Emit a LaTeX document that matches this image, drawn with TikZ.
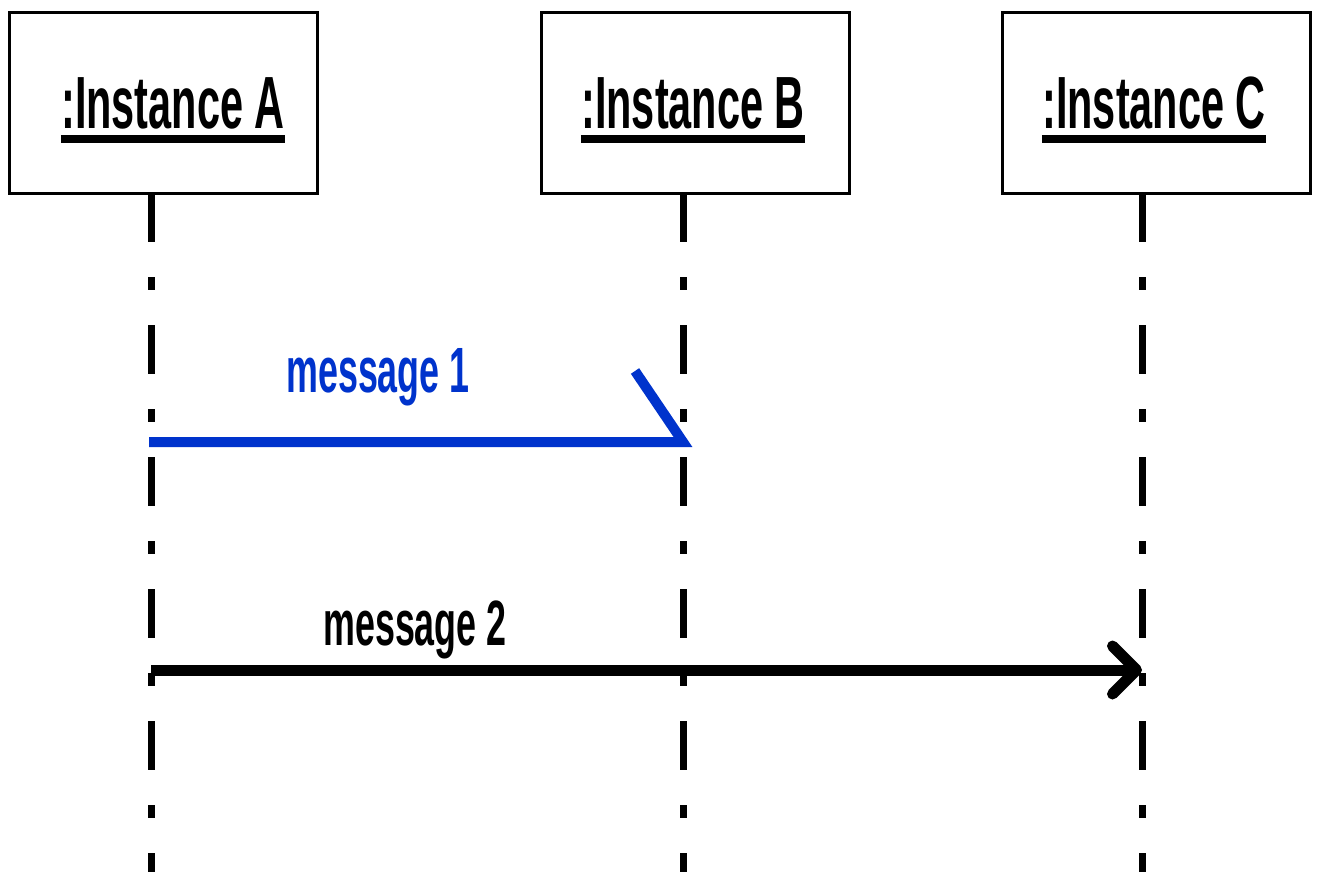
\documentclass[tikz,border=0pt]{standalone}
\usepackage{fontspec}
\usepackage{tikz}
\usetikzlibrary{arrows.meta, positioning, calc}
\newfontfamily\narrowbold{Liberation Sans}[FakeStretch=0.56]
\definecolor{MsgBlue}{RGB}{0,51,204}

\begin{document}
\begin{tikzpicture}[x=0.5pt, y=-0.5pt,
  instbox/.style={draw, line width=1.5pt, rectangle, minimum width=154pt, minimum height=90pt, inner sep=0pt},
  insttext/.style={inner sep=0pt, anchor=base, font=\narrowbold\bfseries\fontsize{37pt}{40pt}\selectfont},
  msgtext/.style={inner sep=0pt, anchor=base, font=\narrowbold\bfseries\fontsize{32pt}{36pt}\selectfont},
  lifeline/.style={line width=3.5pt, dash pattern=on 24.5pt off 17.5pt on 6.5pt off 17.5pt},
  uline/.style={line width=4pt}]
\useasboundingbox (0,0) rectangle (1317,872);
% instances
\node[instbox] at (163,103) (A) {};
\node[instbox] at (695,103) (B) {};
\node[instbox] at (1156,103) (C) {};
\node[insttext] at (173,128) (tA) {:Instance A};
\node[insttext] at (693,128) (tB) {:Instance B};
\node[insttext] at (1154,128) (tC) {:Instance C};
\foreach \t in {tA,tB,tC}
  \draw[uline] ($(\t.base west)+(0,11)$) -- ($(\t.base east)+(0,11)$);
% lifelines
\coordinate (lA) at (151,193); \coordinate (eA) at (151,872);
\coordinate (lB) at (683,193); \coordinate (eB) at (683,872);
\coordinate (lC) at (1142,193); \coordinate (eC) at (1142,872);
\draw[lifeline] (lA) -- (eA);
\draw[lifeline] (lB) -- (eB);
\draw[lifeline] (lC) -- (eC);
% messages
\coordinate (m1s) at (149,442); \coordinate (m1e) at (683,442); \coordinate (m1b) at (635,371);
\coordinate (m2s) at (151,670); \coordinate (m2e) at (1142,670);
\draw[MsgBlue, line width=5pt, miter limit=4] (m1s) -- (m1e) -- (m1b);
\draw[line width=5.5pt, -{Straight Barb[length=12pt, width=24pt, line cap=round, line join=round]}] (m2s) -- (m2e);
\node[msgtext, MsgBlue] at (378,392) (t1) {message 1};
\node[msgtext] at (415,645) (t2) {message 2};
\end{tikzpicture}
\end{document}
